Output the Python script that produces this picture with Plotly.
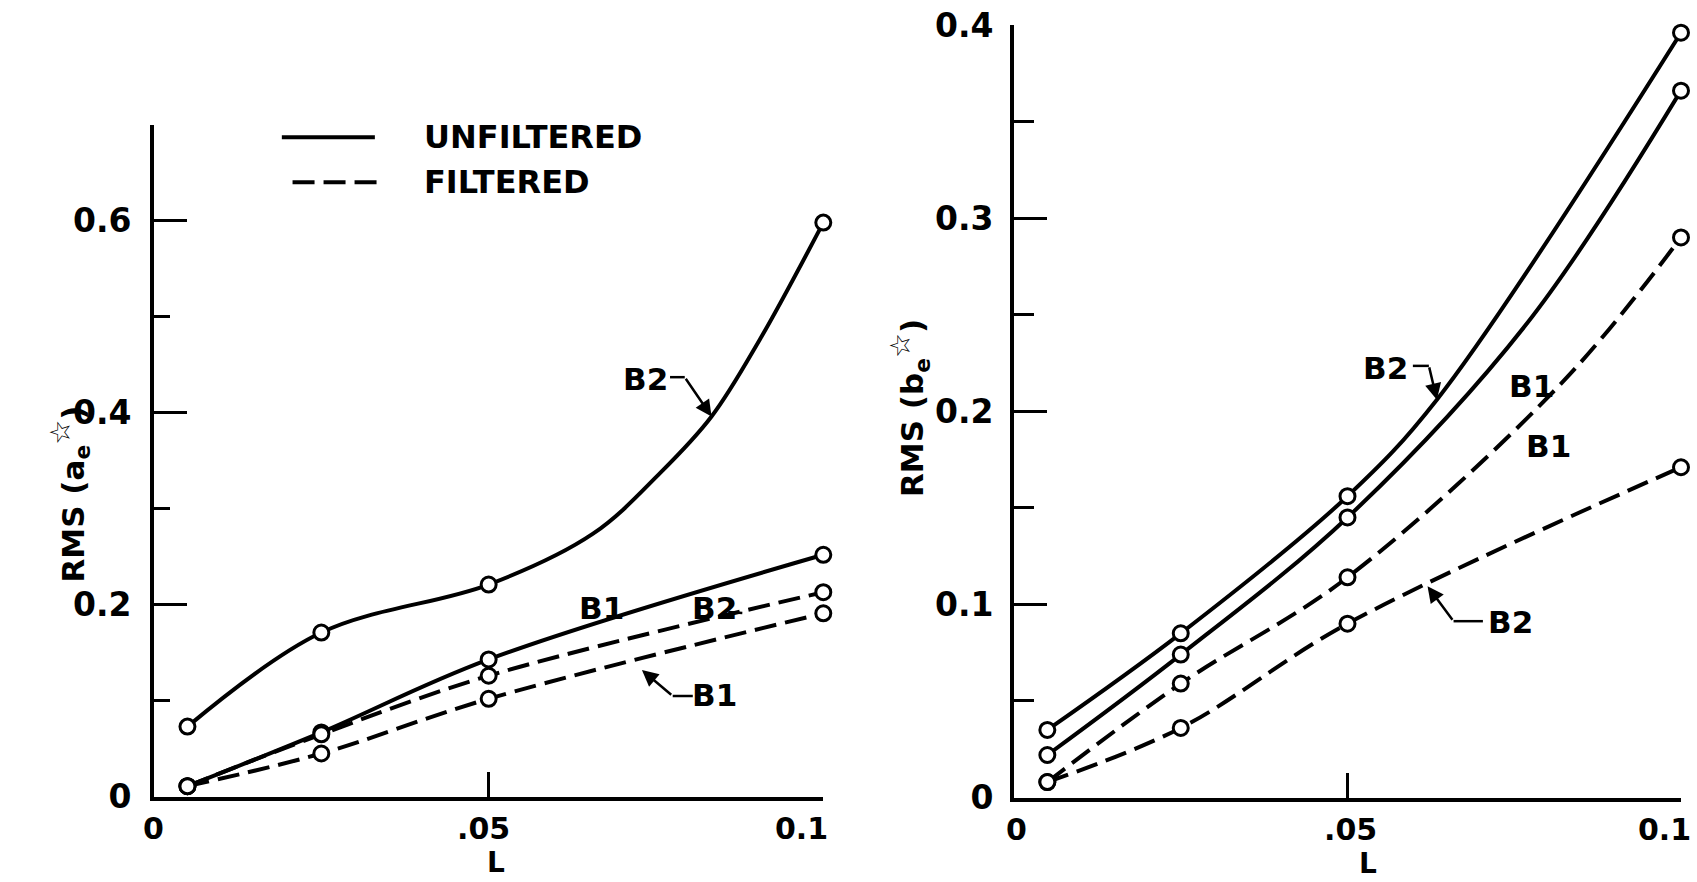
import plotly.graph_objects as go

# ---- data -------------------------------------------------------------
L_VALUES = [0.005, 0.025, 0.05, 0.1]

# RMS(a_e*) panel
a_unf_b2 = [0.073, 0.171, 0.221, 0.598]
a_unf_b1 = [0.011, 0.067, 0.143, 0.252]
a_fil_b2 = [0.011, 0.065, 0.126, 0.213]
a_fil_b1 = [0.011, 0.045, 0.102, 0.191]

# RMS(b_e*) panel
b_unf_b2 = [0.035, 0.085, 0.156, 0.396]
b_unf_b1 = [0.022, 0.074, 0.145, 0.366]
b_fil_b1 = [0.008, 0.059, 0.114, 0.290]
b_fil_b2 = [0.008, 0.036, 0.090, 0.171]

# traced course of the faired curves between the measured points
a_unf_b2_path_L = [0.005, 0.025, 0.05, 0.0656, 0.0756, 0.0833, 0.0905, 0.1]
a_unf_b2_path = [0.073, 0.171, 0.221, 0.274, 0.337, 0.396, 0.476, 0.598]
b_unf_b2_path_L = [0.005, 0.025, 0.05, 0.0634, 0.1]
b_unf_b2_path = [0.035, 0.085, 0.156, 0.206, 0.396]
b_unf_b1_path_L = [0.005, 0.025, 0.05, 0.0768, 0.1]
b_unf_b1_path = [0.022, 0.074, 0.145, 0.245, 0.366]
b_fil_b1_path_L = [0.005, 0.025, 0.05, 0.0824, 0.1]
b_fil_b1_path = [0.008, 0.059, 0.114, 0.2157, 0.290]

x_tick_vals = [0, 0.05, 0.1]
x_tick_text = ["0", ".05", "0.1"]
a_tick_vals = [0, 0.2, 0.4, 0.6]
a_tick_text = ["0", "0.2", "0.4", "0.6"]
a_minor_vals = [0.1, 0.3, 0.5, 0.7]
b_tick_vals = [0, 0.1, 0.2, 0.3, 0.4]
b_tick_text = ["0", "0.1", "0.2", "0.3", "0.4"]
b_minor_vals = [0.05, 0.15, 0.25, 0.35]

# ---- style ------------------------------------------------------------
W, H = 1697, 882
INK = "black"
FONT = dict(family="DejaVu Sans", size=31, color=INK, weight="bold")
TICK_FONT = dict(FONT, size=33)
XTICK_FONT = dict(FONT, size=30)
XTITLE_FONT = dict(FONT, size=28)
LEGEND_FONT = dict(FONT, size=32)
LW = 4
DASH = "22px,9px"

fig = go.Figure()


def curve(x, y, xa, ya, dashed):
    fig.add_trace(go.Scatter(
        x=x, y=y, xaxis=xa, yaxis=ya, mode="lines",
        line=dict(color=INK, width=LW, shape="spline", smoothing=1.0,
                  dash=DASH if dashed else "solid"),
        hoverinfo="skip", showlegend=False, cliponaxis=False))


def circles(series, xa, ya):
    xs, ys = [], []
    for s in series:
        xs += L_VALUES
        ys += s
    fig.add_trace(go.Scatter(
        x=xs, y=ys, xaxis=xa, yaxis=ya, mode="markers",
        marker=dict(symbol="circle", size=15, color="white",
                    line=dict(color=INK, width=3)),
        showlegend=False, cliponaxis=False))


# left panel
curve(a_unf_b2_path_L, a_unf_b2_path, "x", "y", False)
curve(L_VALUES, a_unf_b1, "x", "y", False)
curve(L_VALUES, a_fil_b2, "x", "y", True)
curve(L_VALUES, a_fil_b1, "x", "y", True)
circles([a_unf_b2, a_unf_b1, a_fil_b2, a_fil_b1], "x", "y")

# right panel
curve(b_unf_b2_path_L, b_unf_b2_path, "x2", "y2", False)
curve(b_unf_b1_path_L, b_unf_b1_path, "x2", "y2", False)
curve(b_fil_b1_path_L, b_fil_b1_path, "x2", "y2", True)
curve(L_VALUES, b_fil_b2, "x2", "y2", True)
circles([b_unf_b2, b_unf_b1, b_fil_b1, b_fil_b2], "x2", "y2")

axis_common = dict(showline=True, linecolor=INK, linewidth=LW, showgrid=False,
                   zeroline=False, ticks="inside", tickcolor=INK,
                   tickwidth=3, tickfont=TICK_FONT, automargin=False)

left_dom_x = [154 / W, 823.3 / W]
left_dom_y = [(H - 796.7) / H, (H - 124.7) / H]
right_dom_x = [1014 / W, 1681 / W]
right_dom_y = [(H - 797.5) / H, (H - 25) / H]

fig.update_layout(
    width=W, height=H,
    margin=dict(l=0, r=0, t=0, b=0, pad=0, autoexpand=False),
    paper_bgcolor="white", plot_bgcolor="white", font=FONT,
    xaxis=dict(axis_common, domain=left_dom_x, range=[0, 0.1], anchor="y",
               tickvals=x_tick_vals[1:], ticklen=25, showticklabels=False),
    yaxis=dict(axis_common, domain=left_dom_y, range=[0, 0.7], anchor="x",
               tickvals=a_tick_vals, ticktext=a_tick_text, ticklen=33,
               ticklabelstandoff=12,
               minor=dict(tickvals=a_minor_vals, ticks="inside", ticklen=16,
                          tickwidth=3, tickcolor=INK)),
    xaxis2=dict(axis_common, domain=right_dom_x, range=[0, 0.1], anchor="y2",
                tickvals=x_tick_vals[1:], ticklen=25, showticklabels=False),
    yaxis2=dict(axis_common, domain=right_dom_y, range=[0, 0.4], anchor="x2",
                tickvals=b_tick_vals, ticktext=b_tick_text, ticklen=33,
                ticklabelstandoff=10,
                minor=dict(tickvals=b_minor_vals, ticks="inside", ticklen=20,
                           tickwidth=3, tickcolor=INK)),
)

ann = []

# x tick labels and axis titles
for xa, ya, shifts in (("x", "y", [-1, -5, -22]), ("x2", "y2", [2, 3, -17])):
    for v, t, s in zip(x_tick_vals, x_tick_text, shifts):
        ann.append(dict(x=v, y=0, xref=xa, yref=ya, text=t, showarrow=False,
                        xanchor="center", yanchor="middle", xshift=s,
                        yshift=-32, borderpad=0, font=XTICK_FONT))
ann.append(dict(x=0.0511, y=0, xref="x", yref="y", text="L", showarrow=False,
                yanchor="middle", yshift=-66, borderpad=0, font=XTITLE_FONT))
ann.append(dict(x=0.0531, y=0, xref="x2", yref="y2", text="L", showarrow=False,
                yanchor="middle", yshift=-66, borderpad=0, font=XTITLE_FONT))

# y axis titles
STAR = '<sup><span style="font-size:28px">☆</span></sup>'
ann.append(dict(x=42 / W, y=(H - 494) / H, xref="paper", yref="paper",
                text="RMS (a<sub>e</sub>" + STAR + ")", textangle=-90,
                showarrow=False, font=FONT))
ann.append(dict(x=910 / W, y=(H - 408) / H, xref="paper", yref="paper",
                text="RMS (b<sub>e</sub>" + STAR + ")", textangle=-90,
                showarrow=False, font=FONT))

# legend
ann.append(dict(x=0.0400, y=0.687, xref="x", yref="y", text="UNFILTERED",
                showarrow=False, xanchor="left", yanchor="middle",
                font=LEGEND_FONT))
ann.append(dict(x=0.0400, y=0.640, xref="x", yref="y", text="FILTERED",
                showarrow=False, xanchor="left", yanchor="middle",
                font=LEGEND_FONT))
shapes = [
    dict(type="line", xref="x", yref="y", x0=0.0191, x1=0.0330, y0=0.687,
         y1=0.687, line=dict(color=INK, width=LW)),
    dict(type="line", xref="x", yref="y", x0=0.0207, x1=0.0345, y0=0.640,
         y1=0.640, line=dict(color=INK, width=LW, dash=DASH)),
]


def label(xa, ya, x, y, text):
    ann.append(dict(x=x, y=y, xref=xa, yref=ya, text=text, showarrow=False,
                    xanchor="center", yanchor="middle", font=FONT))


def leader(xa, ya, pts, arrow=True):
    # straight pieces of a leader line; the last piece ends in an arrowhead
    for (x0, y0), (x1, y1) in zip(pts[:-2], pts[1:-1]):
        shapes.append(dict(type="line", xref=xa, yref=ya, x0=x0, y0=y0,
                           x1=x1, y1=y1, line=dict(color=INK, width=2.5)))
    (x0, y0), (x1, y1) = pts[-2], pts[-1]
    if arrow:
        ann.append(dict(x=x1, y=y1, ax=x0, ay=y0, xref=xa, yref=ya,
                        axref=xa, ayref=ya, text="", showarrow=True,
                        arrowhead=2, arrowsize=1.3, arrowwidth=2.5,
                        arrowcolor=INK, standoff=0))
    else:
        shapes.append(dict(type="line", xref=xa, yref=ya, x0=x0, y0=y0,
                           x1=x1, y1=y1, line=dict(color=INK, width=2.5)))


# left panel labels
label("x", "y", 0.0735, 0.435, "B2")
leader("x", "y", [(0.0771, 0.437), (0.0793, 0.437), (0.0833, 0.396)])
label("x", "y", 0.0668, 0.1966, "B1")
label("x", "y", 0.0837, 0.1966, "B2")
leader("x", "y", [(0.0858, 0.1924), (0.0879, 0.1914)], arrow=False)
label("x", "y", 0.0837, 0.1059, "B1")
leader("x", "y", [(0.0805, 0.1049), (0.0775, 0.1049), (0.0729, 0.132)])

# right panel labels
label("x2", "y2", 0.0557, 0.2226, "B2")
leader("x2", "y2", [(0.0598, 0.2235), (0.0622, 0.2235), (0.0634, 0.206)])
label("x2", "y2", 0.0776, 0.213, "B1")
label("x2", "y2", 0.0801, 0.1818, "B1")
label("x2", "y2", 0.0744, 0.0907, "B2")
leader("x2", "y2", [(0.0703, 0.0913), (0.0659, 0.0913), (0.0620, 0.1094)])

fig.update_layout(annotations=ann, shapes=shapes)
fig.write_html("out.html")
